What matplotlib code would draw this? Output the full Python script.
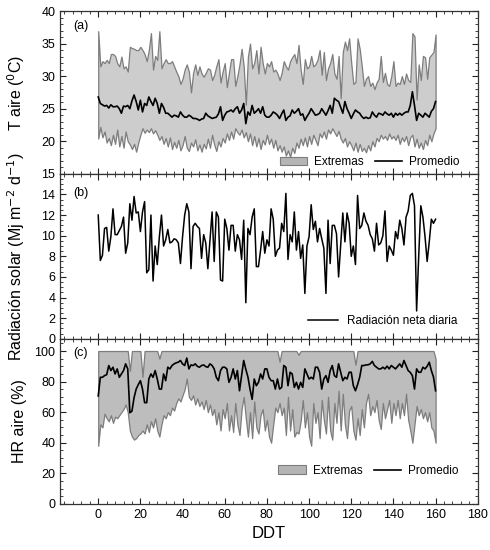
import numpy as np
import matplotlib
matplotlib.use("Agg")
import matplotlib.pyplot as plt
from matplotlib.patches import Patch
from matplotlib.lines import Line2D
from matplotlib.ticker import MultipleLocator

plt.rcParams['font.family'] = ['Liberation Sans', 'DejaVu Sans']

days = np.arange(0, 161)

t_max = [36.9, 31.5, 32.3, 32.0, 32.5, 32.0, 33.4, 33.4, 33.1, 32.0,
         31.5, 33.0, 31.2, 31.5, 30.7, 34.5, 34.3, 34.2, 34.0, 34.0,
         34.5, 34.0, 33.4, 32.3, 34.0, 36.6, 31.0, 33.1, 32.5, 36.9,
         31.2, 32.0, 32.6, 32.0, 32.0, 32.3, 31.5, 30.7, 30.0, 28.8,
         29.6, 31.0, 31.8, 30.7, 27.5, 30.5, 31.8, 30.2, 31.5, 30.4,
         29.9, 30.5, 31.2, 31.0, 29.4, 30.2, 31.5, 32.6, 29.0, 30.7,
         32.0, 28.3, 30.5, 32.6, 32.6, 28.5, 30.0, 31.8, 34.2, 31.5,
         25.6, 33.0, 35.0, 31.2, 32.0, 34.0, 30.4, 34.5, 32.0, 30.4,
         32.0, 31.5, 32.3, 30.7, 31.0, 30.4, 29.4, 30.5, 32.3, 31.5,
         31.0, 32.3, 32.9, 33.4, 32.0, 34.8, 31.0, 28.8, 32.6, 31.2,
         31.5, 33.1, 31.5, 31.8, 32.5, 34.0, 30.2, 33.7, 29.4, 31.2,
         32.0, 33.4, 30.4, 29.6, 33.1, 26.6, 33.7, 35.3, 34.0, 35.8,
         32.0, 28.8, 29.1, 35.8, 34.2, 31.5, 28.5, 29.6, 30.0, 28.5,
         29.0, 28.0, 29.0, 29.6, 33.1, 29.1, 30.5, 28.8, 28.5, 30.0,
         32.3, 28.5, 29.0, 28.8, 30.0, 28.8, 30.4, 29.4, 29.1, 36.6,
         36.1, 26.4, 31.8, 29.4, 33.1, 32.9, 29.6, 32.9, 33.3, 33.7,
         36.4]

t_mean = [26.8, 25.8, 25.6, 25.4, 25.5, 25.1, 25.6, 25.3, 25.3, 25.4,
          25.0, 24.3, 25.4, 25.3, 25.5, 25.0, 26.2, 27.1, 26.1, 24.8,
          26.3, 24.5, 25.8, 25.5, 26.8, 26.1, 25.5, 26.6, 25.8, 24.3,
          25.8, 25.2, 24.3, 24.3, 24.0, 23.7, 24.0, 23.9, 23.7, 24.5,
          24.0, 23.7, 23.7, 24.0, 23.8, 23.5, 23.5, 23.4, 23.2, 23.4,
          23.5, 24.3, 23.9, 23.7, 23.5, 23.6, 23.7, 24.2, 25.3, 23.2,
          24.0, 24.5, 24.6, 24.8, 24.5, 25.0, 25.3, 24.3, 24.8, 25.8,
          22.7, 24.5, 24.0, 25.5, 24.3, 24.6, 25.0, 24.3, 25.3, 24.0,
          23.7, 23.7, 24.0, 24.5, 24.3, 24.0, 23.5, 24.2, 24.8, 23.2,
          23.7, 23.9, 24.8, 24.3, 24.6, 25.0, 24.0, 24.2, 23.2, 23.8,
          24.3, 25.0, 24.5, 24.0, 24.1, 24.3, 25.0, 24.5, 24.0, 24.7,
          25.5, 24.3, 26.6, 26.3, 26.1, 25.2, 24.3, 26.1, 25.0, 24.3,
          23.5, 24.2, 24.8, 24.5, 24.3, 23.8, 23.5, 23.7, 23.5, 23.6,
          24.5, 24.0, 23.7, 24.3, 24.2, 24.0, 24.5, 24.2, 24.0, 24.3,
          23.7, 24.3, 24.0, 24.3, 24.0, 24.3, 24.5, 24.5, 25.5, 27.6,
          25.5, 23.2, 24.3, 24.0, 23.7, 24.3, 24.0, 23.7, 24.6, 25.0,
          26.1]

t_min = [20.4, 22.2, 20.6, 21.5, 19.8, 20.5, 19.4, 21.0, 19.6, 21.8,
         19.2, 20.8, 19.0, 21.5, 20.0, 19.5, 18.8, 19.6, 18.4, 19.8,
         21.0, 22.0, 21.3, 21.8, 21.4, 22.0, 21.2, 21.7, 21.0, 20.2,
         20.8, 19.6, 20.5, 19.2, 20.6, 18.8, 19.9, 19.0, 20.2, 18.6,
         19.4, 20.8, 19.0, 18.5, 19.8, 19.2, 20.3, 18.6, 19.5, 18.4,
         19.6, 18.9, 20.4, 19.0, 21.0, 19.5, 18.5, 20.0, 19.2, 20.5,
         19.8, 21.2, 20.2, 21.5, 20.4, 22.0, 21.4, 21.0, 21.8, 20.6,
         21.4, 20.0, 21.2, 19.4, 20.8, 19.2, 20.5, 18.8, 20.2, 19.5,
         21.0, 19.6, 20.4, 19.0, 20.2, 18.6, 19.4, 18.4, 19.2, 17.8,
         18.6, 17.6, 19.0, 18.2, 19.8, 19.0, 20.4, 19.4, 20.6, 19.2,
         20.8, 19.6, 21.0, 20.2, 19.4, 21.2, 20.6, 21.5, 20.4, 21.8,
         21.2, 22.0, 21.4, 20.8, 21.6, 20.4, 19.8, 20.5, 19.2, 20.0,
         19.4, 18.6, 19.8, 18.4, 19.6, 18.5, 19.0, 18.3, 19.4, 18.6,
         20.0, 19.2, 20.5, 20.0, 21.0, 20.4, 20.8, 20.2, 21.2, 20.4,
         20.8, 20.2, 21.0, 19.6, 20.6, 20.0, 20.8, 19.4, 20.6, 21.0,
         19.2, 20.4, 19.0, 19.8, 18.8, 20.2, 19.4, 21.0, 20.0, 21.2,
         22.0]

radiation = [12.0, 7.6, 8.1, 10.7, 10.8, 8.5, 9.9, 12.6, 10.1, 10.1,
             10.5, 10.9, 11.8, 8.3, 9.3, 13.1, 11.5, 13.8, 12.2, 12.3,
             10.4, 12.3, 13.3, 6.4, 6.7, 12.0, 5.6, 9.0, 7.2, 9.9,
             12.0, 9.0, 9.6, 10.6, 9.3, 9.4, 9.7, 9.6, 9.3, 7.3,
             9.9, 12.0, 13.1, 12.3, 6.8, 10.9, 11.2, 10.9, 10.7, 7.8,
             10.1, 9.3, 6.8, 9.6, 12.3, 7.5, 12.3, 11.8, 5.7, 5.6,
             11.6, 10.7, 8.6, 11.0, 11.0, 8.5, 10.1, 9.6, 7.7, 11.5,
             3.5, 10.7, 10.1, 11.8, 12.6, 7.0, 7.0, 8.6, 10.4, 8.3,
             9.6, 9.0, 12.6, 11.6, 8.0, 8.6, 8.8, 11.2, 10.4, 14.1,
             7.7, 10.1, 9.4, 12.3, 8.6, 10.4, 7.8, 9.1, 4.4, 9.0,
             9.9, 13.0, 10.6, 11.4, 9.4, 10.7, 9.7, 8.8, 4.4, 11.5,
             7.3, 11.0, 11.0, 10.2, 6.0, 9.1, 12.2, 9.4, 12.2, 11.2,
             8.0, 9.0, 7.2, 13.9, 10.7, 11.0, 12.2, 11.4, 11.0, 10.1,
             9.7, 8.5, 11.2, 9.1, 9.3, 10.0, 12.4, 7.5, 9.0, 8.6,
             8.1, 10.4, 9.7, 11.5, 10.7, 9.1, 11.8, 12.4, 13.9, 14.1,
             12.9, 2.7, 8.0, 12.9, 11.8, 9.9, 7.5, 9.4, 11.6, 11.2,
             11.6]

hr_max = [100, 100, 100, 100, 100, 100, 100, 100, 100, 100,
          100, 100, 100, 100, 100, 87, 100, 100, 100, 100,
          100, 83, 100, 100, 100, 100, 100, 100, 100, 95,
          100, 100, 100, 100, 100, 100, 100, 100, 100, 100,
          100, 100, 100, 100, 100, 100, 100, 100, 100, 100,
          100, 100, 100, 100, 100, 100, 100, 100, 100, 100,
          100, 100, 100, 100, 100, 100, 100, 100, 100, 100,
          100, 100, 100, 100, 100, 100, 100, 100, 100, 100,
          100, 100, 100, 100, 100, 100, 93, 100, 100, 100,
          100, 100, 100, 100, 100, 97.5, 100, 100, 100, 100,
          100, 100, 100, 100, 100, 100, 100, 100, 100, 100,
          100, 100, 100, 100, 100, 100, 100, 100, 100, 100,
          100, 100, 91, 100, 100, 100, 100, 100, 100, 100,
          100, 100, 100, 100, 100, 100, 100, 100, 100, 100,
          100, 100, 100, 100, 100, 100, 100, 100, 100, 100,
          100, 100, 100, 100, 100, 100, 100, 100, 100, 100,
          95]

hr_mean = [70.6, 82.8, 82.8, 83.9, 84.5, 90.5, 87.2, 89.4, 85.0, 88.3,
           82.8, 85.0, 87.2, 91.6, 88.3, 59.6, 60.7, 69.5, 75.1, 78.0,
           80.6, 75.1, 66.2, 66.2, 81.7, 85.0, 82.8, 87.2, 81.7, 75.1,
           75.1, 85.0, 80.6, 89.4, 88.3, 90.5, 91.6, 92.3, 92.7, 93.8,
           91.6, 90.5, 95.4, 88.3, 90.9, 90.5, 91.6, 90.0, 89.4, 90.5,
           90.9, 89.8, 89.4, 91.6, 90.5, 88.3, 82.8, 80.6, 87.2, 89.4,
           89.4, 88.3, 79.5, 82.8, 88.3, 81.7, 87.2, 74.0, 83.9, 93.8,
           88.0, 83.0, 75.0, 68.4, 81.7, 77.3, 79.5, 85.0, 81.7, 88.3,
           88.3, 82.8, 80.6, 80.6, 75.1, 81.7, 75.1, 76.2, 90.5, 89.4,
           77.3, 86.1, 85.0, 76.2, 79.5, 75.1, 79.5, 76.2, 88.3, 85.0,
           81.7, 82.8, 81.7, 89.4, 89.4, 86.1, 75.1, 81.7, 83.9, 79.5,
           87.2, 90.5, 83.9, 82.8, 91.6, 86.1, 80.6, 82.8, 81.7, 86.1,
           86.1, 77.3, 74.0, 78.0, 82.8, 90.5, 90.5, 90.9, 91.0, 91.6,
           93.2, 90.5, 89.4, 88.3, 88.3, 89.4, 88.3, 90.1, 88.3, 90.5,
           89.4, 88.3, 90.0, 91.6, 89.4, 93.8, 90.5, 87.2, 86.0, 83.9,
           75.1, 88.3, 86.1, 86.1, 89.4, 88.3, 90.0, 92.7, 87.2, 83.0,
           74.0]

hr_min = [38, 52, 50, 59, 56, 54, 58, 53, 57, 56,
          58, 60, 62, 65, 60, 48, 44, 42, 43, 45,
          46, 48, 46, 52, 47, 54, 50, 56, 48, 44,
          52, 58, 56, 60, 58, 63, 61, 66, 69, 67,
          71, 75, 82, 70, 68, 71, 65, 69, 64, 67,
          62, 68, 60, 65, 58, 62, 52, 60, 48, 62,
          56, 66, 48, 58, 47, 66, 52, 45, 62, 70,
          56, 44, 60, 43, 67, 50, 46, 58, 62, 48,
          55, 44, 40, 52, 63, 60, 66, 58, 63, 45,
          70, 48, 62, 44, 47, 46, 54, 68, 50, 60,
          44, 38, 66, 53, 60, 43, 68, 55, 46, 70,
          48, 42, 66, 53, 74, 48, 72, 52, 43, 61,
          64, 48, 42, 56, 45, 62, 50, 66, 72, 58,
          64, 60, 68, 55, 49, 66, 56, 62, 68, 53,
          66, 58, 68, 56, 66, 58, 72, 55, 48, 40,
          52, 64, 58, 62, 56, 60, 54, 60, 50, 48,
          40]

x_ticks = [0, 20, 40, 60, 80, 100, 120, 140, 160, 180]

fill_col = '#cdcdcd'
edge_col = '#7d7d7d'

fig = plt.figure(figsize=(4.9, 5.5), dpi=100)
L, R = 0.123, 0.975
ax_a = fig.add_axes([L, 0.684, R - L, 0.296])
ax_b = fig.add_axes([L, 0.384, R - L, 0.300], sharex=ax_a)
ax_c = fig.add_axes([L, 0.084, R - L, 0.300], sharex=ax_a)

def style(ax):
    ax.tick_params(which='both', direction='in', top=True, right=True,
                   labelsize=9, color='#222222')
    ax.tick_params(which='major', length=4, width=0.8)
    ax.tick_params(which='minor', length=2, width=0.6)
    ax.xaxis.set_major_locator(MultipleLocator(20))
    ax.xaxis.set_minor_locator(MultipleLocator(4))
    for s in ax.spines.values():
        s.set_linewidth(0.9)
        s.set_color('#333333')

# Panel (a)
ax_a.fill_between(days, t_min, t_max, facecolor=fill_col, edgecolor=edge_col, linewidth=0.9)
ax_a.plot(days, t_mean, color='black', linewidth=1.2)
ax_a.set_ylim(15, 40)
ax_a.set_yticks([15, 20, 25, 30, 35, 40])
ax_a.yaxis.set_minor_locator(MultipleLocator(1))
ax_a.set_ylabel('T aire ($^0$C)', fontsize=11.5)
ax_a.text(-12, 37.3, '(a)', fontsize=9)
h1 = [Patch(facecolor='#b5b5b5', edgecolor=edge_col, linewidth=0.8),
      Line2D([], [], color='black', linewidth=1.2)]
ax_a.legend(h1, ['Extremas', 'Promedio'], loc='lower right', ncol=2, frameon=False,
            fontsize=8.5, handlelength=2.3, columnspacing=1.0, handletextpad=0.6,
            borderaxespad=0.05, bbox_to_anchor=(0.97, 0.0))

# Panel (b)
ax_b.plot(days, radiation, color='black', linewidth=1.1)
ax_b.set_ylim(0, 16)
ax_b.set_yticks([0, 2, 4, 6, 8, 10, 12, 14])
ax_b.yaxis.set_minor_locator(MultipleLocator(0.5))
ax_b.set_ylabel('Radiación solar (Mj m$^{-2}$ d$^{-1}$)', fontsize=11.5)
ax_b.text(-12, 13.8, '(b)', fontsize=9)
ax_b.legend([Line2D([], [], color='black', linewidth=1.1)], ['Radiación neta diaria'],
            loc='lower right', frameon=False, fontsize=8.5, handlelength=2.5,
            borderaxespad=0.6, bbox_to_anchor=(0.98, 0.0))

# Panel (c)
ax_c.fill_between(days, hr_min, hr_max, facecolor='#bdbdbd', edgecolor=edge_col, linewidth=0.9)
ax_c.plot(days, hr_mean, color='black', linewidth=1.2)
ax_c.set_ylim(0, 108)
ax_c.set_yticks([0, 20, 40, 60, 80, 100])
ax_c.yaxis.set_minor_locator(MultipleLocator(5))
ax_c.set_ylabel('HR aire (%)', fontsize=11.5)
ax_c.text(-12, 97, '(c)', fontsize=9)
ax_c.legend(h1, ['Extremas', 'Promedio'], loc='lower right', ncol=2, frameon=False,
            fontsize=8.5, handlelength=2.3, columnspacing=1.0, handletextpad=0.6,
            bbox_to_anchor=(0.98, 0.1))

for ax in (ax_a, ax_b, ax_c):
    style(ax)
ax_c.set_xlim(-18, 180)
ax_c.set_xticks(x_ticks)
ax_c.set_xlabel('DDT', fontsize=12)
plt.setp(ax_a.get_xticklabels(), visible=False)
plt.setp(ax_b.get_xticklabels(), visible=False)

for ax in (ax_a, ax_b, ax_c):
    ax.yaxis.set_label_coords(-0.08, 0.5)

fig.savefig('out.png', dpi=100)
